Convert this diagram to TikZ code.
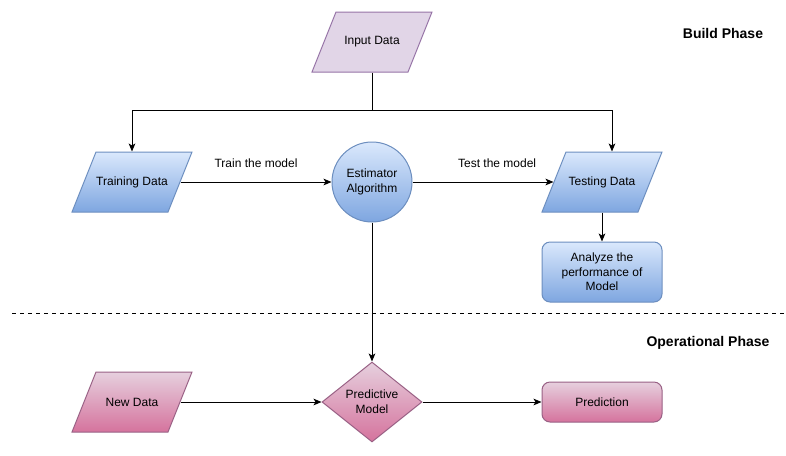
\documentclass[tikz,border=0pt]{standalone}
\usepackage{fontspec}
\setmainfont{Liberation Sans}
\usepackage{tikz}
\usetikzlibrary{shapes.geometric}
\usetikzlibrary{arrows.meta}
\usetikzlibrary{positioning}
\usetikzlibrary{calc}
\definecolor{inBody}{HTML}{E1D5E7}
\definecolor{inBorder}{HTML}{9673A6}
\definecolor{blueTop}{HTML}{DAE8FC}
\definecolor{blueBottom}{HTML}{7EA6E0}
\definecolor{blueBorder}{HTML}{6C8EBF}
\definecolor{pinkTop}{HTML}{E6D0DE}
\definecolor{pinkBottom}{HTML}{D5739D}
\definecolor{pinkBorder}{HTML}{996185}
\tikzstyle{BLUE} = [top color=blueTop, bottom color=blueBottom, draw=blueBorder]
\tikzstyle{PINK} = [top color=pinkTop, bottom color=pinkBottom, draw=pinkBorder]
\tikzstyle{data} = [rectangle, minimum width=72pt, minimum height=45pt, inner sep=0pt]
\tikzstyle{box} = [rectangle, rounded corners=6pt, minimum width=90pt, align=center]
% parallelogram behind a named node: name, centre, look, text
\newcommand{\datanode}[4]{%
    \path [line width=0.75pt, #3] ($#2+(-36,-30)$) -- ($#2+(60,-30)$)
        -- ($#2+(36,30)$) -- ($#2+(-60,30)$) -- cycle;
    \node [data] (#1) at #2 {#4};}

\begin{document}
\begin{tikzpicture}[
            x=0.75pt, y=-0.75pt,
            every node/.style={font=\fontsize{9}{11}\selectfont, line width=0.75pt},
            link/.style={line width=0.75pt, -{Stealth[length=6pt, width=5pt, inset=1.5pt]}},
            ]
            \useasboundingbox (0,0) rectangle (786,455);
            % build phase
            \datanode{input}{(372,42)}{fill=inBody, draw=inBorder}{Input Data}
            \datanode{training}{(132,182)}{BLUE}{Training Data}
            \node [circle, BLUE, minimum size=60pt, align=center, inner sep=0pt] (estimator) at (372,182)
                {Estimator\\Algorithm};
            \datanode{testing}{(602,182)}{BLUE}{Testing Data}
            \node [box, BLUE, minimum height=45pt] (analyze) at (602,272)
                {Analyze the\\performance of\\Model};
            \coordinate (split) at (372,110);
            \draw [line width=0.75pt] (input.south) -- (split);
            \draw [link] (split) -| (training.north);
            \draw [link] (split) -| ([xshift=7.5pt]testing.north);
            \draw [link] (training.east) -- node [midway, above=7pt] {Train the model} (estimator.west);
            \draw [link] (estimator.east) -- node [pos=0.6, above=7pt] {Test the model} (testing.west);
            \draw [link] (testing.south) -- (analyze.north);
            \node [font=\fontsize{10.5}{12}\selectfont\bfseries] (build) at (723,33) {Build Phase};
            % separator
            \coordinate (sepL) at (12,313);
            \coordinate (sepR) at (786,313);
            \draw [dashed, line width=0.75pt] (sepL) -- (sepR);
            % operational phase
            \node [font=\fontsize{10.5}{12}\selectfont\bfseries] (oper) at (708,343) {Operational Phase};
            \datanode{new}{(132,402)}{PINK}{New Data}
            \node [diamond, PINK, minimum width=75pt, minimum height=60pt, align=center, inner sep=0pt]
                (predictive) at (372,402) {Predictive\\Model};
            \node [box, PINK, minimum height=30pt] (prediction) at (602,402) {Prediction};
            \draw [link] (estimator.south) -- (predictive.north);
            \draw [link] (new.east) -- (predictive.west);
            \draw [link] (predictive.east) -- (prediction.west);
        \end{tikzpicture}
\end{document}
